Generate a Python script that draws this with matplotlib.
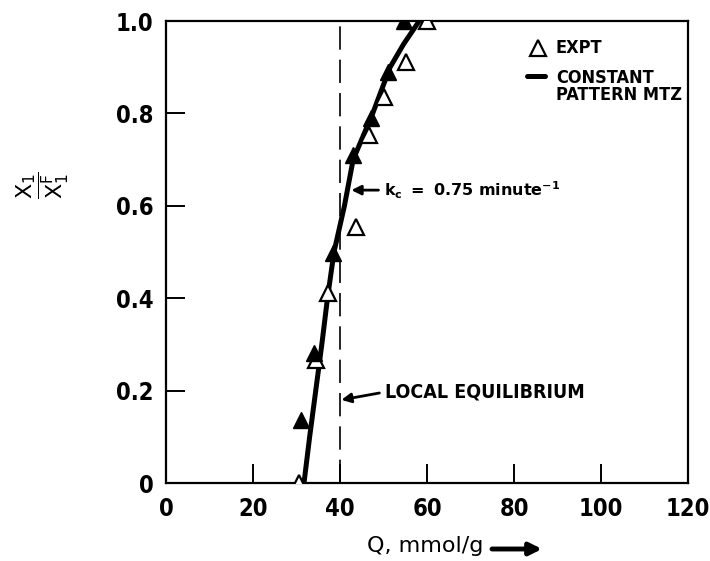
import matplotlib
matplotlib.use("Agg")
import matplotlib.pyplot as plt
from matplotlib import font_manager

# ---------------- data ----------------
expt_q = [30.6, 34.5, 37.2, 43.7, 46.7, 50.1, 55.2, 60.0]
expt_x = [0.0, 0.266, 0.411, 0.554, 0.753, 0.835, 0.911, 1.0]

run_q = [31.0, 34.0, 38.4, 43.0, 47.1, 51.0, 54.7]
run_x = [0.136, 0.281, 0.498, 0.71, 0.79, 0.89, 1.0]

mtz_x = [0.0, 0.1, 0.2, 0.3, 0.4, 0.5, 0.6, 0.7, 0.8, 0.9, 0.95, 1.0]
mtz_q = [31.7, 33.0, 34.4, 35.8, 37.1, 38.6, 41.0, 43.0, 47.5, 51.5, 54.6, 58.2]

local_eq_q = 40.0

x_ticks = [0, 20, 40, 60, 80, 100, 120]
y_ticks = [0, 0.2, 0.4, 0.6, 0.8, 1.0]
y_ticklabels = ["0", "0.2", "0.4", "0.6", "0.8", "1.0"]

# ---------------- pick a narrow bold sans ----------------
STRETCH_RANK = {"ultra-condensed": 0, "extra-condensed": 1, "condensed": 2,
                "semi-condensed": 3}
best = None
for f in font_manager.fontManager.ttflist:
    w = f.weight if isinstance(f.weight, int) else font_manager.weight_dict.get(f.weight, 400)
    if w < 600 or w > 800 or f.style != "normal":
        continue
    nm = f.name.lower()
    if "mono" in nm:
        continue
    if "narrow" in nm:
        rank = 0.5
    elif "condensed" in nm:
        rank = 1.5 if ("extra" in nm or "ultra" in nm) else 2.5
    elif f.stretch in STRETCH_RANK:
        rank = STRETCH_RANK[f.stretch] + 0.1
    else:
        continue
    score = abs(rank - 1.8)
    if best is None or score < best[0]:
        best = (score, f)

if best is not None:
    BASE_FP = font_manager.FontProperties(fname=best[1].fname)
else:
    BASE_FP = font_manager.FontProperties(family="DejaVu Sans", weight="bold",
                                          stretch="condensed")

plt.rcParams["mathtext.fontset"] = "custom"
plt.rcParams["mathtext.rm"] = "DejaVu Sans:bold"
plt.rcParams["mathtext.it"] = "DejaVu Sans:bold"
plt.rcParams["mathtext.bf"] = "DejaVu Sans:bold"
plt.rcParams["mathtext.sf"] = "DejaVu Sans"


def fp(size):
    p = BASE_FP.copy()
    p.set_size(size)
    return dict(fontproperties=p)


fig = plt.figure(figsize=(7.10, 5.61), dpi=100)
ax = fig.add_axes([0.234, 0.139, 0.735, 0.8235])

# curve
ax.plot(mtz_q, mtz_x, color="black", lw=3.6, solid_capstyle="butt", zorder=3)
# experimental (open)
ax.plot(expt_q, expt_x, linestyle="none", marker="^", ms=11, mfc="white",
        mec="black", mew=1.6, zorder=4)
# second set (filled)
ax.plot(run_q, run_x, linestyle="none", marker="^", ms=11, mfc="black",
        mec="black", mew=1.0, zorder=4)
# local equilibrium
ax.plot([local_eq_q, local_eq_q], [0, 1], color="black", lw=1.2,
        linestyle=(0, (14, 6)), zorder=2)

ax.set_xlim(0, 120)
ax.set_ylim(0, 1.0)
ax.set_xticks(x_ticks)
ax.set_xticklabels([str(t) for t in x_ticks], **fp(17))
ax.set_yticks(y_ticks)
ax.set_yticklabels(y_ticklabels, **fp(17))
ax.tick_params(direction="in", length=14, width=1.4, pad=9)
ax.tick_params(axis="x", pad=10)
for s in ax.spines.values():
    s.set_linewidth(1.6)

# axis labels
ax.set_xlabel("Q, mmol/g", fontsize=16, family="DejaVu Sans")
ax.xaxis.set_label_coords(0.497, -0.115)
ax.annotate("", xy=(542, 12), xytext=(492, 12), xycoords="figure pixels",
            textcoords="figure pixels",
            arrowprops=dict(arrowstyle="-|>", lw=3.5, color="black",
                            mutation_scale=18, shrinkA=0, shrinkB=0))

ax.set_ylabel(r"$\dfrac{\mathsf{X}_{\mathsf{1}}}{\mathsf{X}_{\mathsf{1}}^{\mathsf{F}}}$",
              fontsize=16, rotation=90, va="center", ha="center")
ax.yaxis.set_label_coords(-0.236, 0.645)

# annotations
ax.annotate(r"$\mathrm{k_c\ =\ 0.75\ minute^{-1}}$", xy=(42.6, 0.634),
            xytext=(50.1, 0.634), ha="left", va="center", fontsize=11.5,
            arrowprops=dict(arrowstyle="-|>", lw=2.0, color="black",
                            mutation_scale=14, shrinkA=2, shrinkB=0,
                            relpos=(0, 0.5)))
ax.annotate("LOCAL EQUILIBRIUM", xy=(40.3, 0.18), xytext=(50.3, 0.197),
            ha="left", va="center", **fp(14),
            arrowprops=dict(arrowstyle="-|>", lw=2.0, color="black",
                            mutation_scale=14, shrinkA=2, shrinkB=0,
                            relpos=(0, 0.5)))

# legend (manual)
ax.plot([0.713], [0.942], transform=ax.transAxes, marker="^", ms=11,
        mfc="white", mec="black", mew=1.6, linestyle="none", clip_on=False)
ax.text(0.747, 0.942, "EXPT", transform=ax.transAxes,
        ha="left", va="center", **fp(13))
ax.plot([0.692, 0.726], [0.881, 0.881], transform=ax.transAxes,
        color="black", lw=3.6, solid_capstyle="round", clip_on=False)
ax.text(0.747, 0.877, "CONSTANT", transform=ax.transAxes,
        ha="left", va="center", **fp(13))
ax.text(0.747, 0.840, "PATTERN MTZ", transform=ax.transAxes,
        ha="left", va="center", **fp(13))

fig.savefig("out.png", dpi=100)
